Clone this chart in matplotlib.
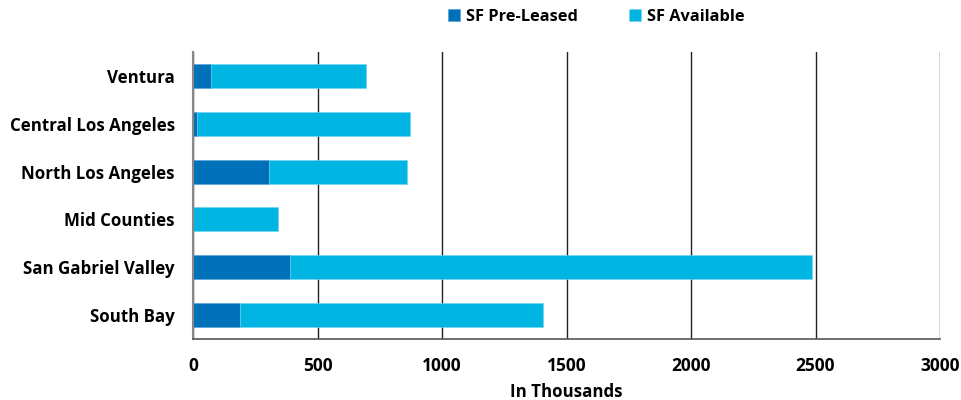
import matplotlib.pyplot as plt

categories = ["Ventura", "Central Los Angeles", "North Los Angeles",
              "Mid Counties", "San Gabriel Valley", "South Bay"]
pre_leased = [72, 16, 307, 0, 390, 189]
total_sf = [693, 870, 861, 343, 2486, 1405]
available = [t - p for t, p in zip(total_sf, pre_leased)]

x_ticks = [0, 500, 1000, 1500, 2000, 2500, 3000]

plt.rcParams["font.family"] = ["Open Sans", "DejaVu Sans"]
plt.rcParams["font.weight"] = "bold"

fig = plt.figure(figsize=(9.61, 4.0), dpi=100)
ax = fig.add_axes([193 / 961, 1 - 339 / 400, 747 / 961, 287 / 400])

ypos = list(range(len(categories)))
ax.barh(ypos, pre_leased, height=0.5, color="#0070B8", label="SF Pre-Leased",
        edgecolor="#4a9fd6", linewidth=0.4)
ax.barh(ypos, available, left=pre_leased, height=0.5, color="#00B5E2",
        label="SF Available", edgecolor="#6fd3f0", linewidth=0.4)

ax.set_ylim(len(categories) - 0.5, -0.5)
ax.set_xlim(0, 3000)
ax.set_yticks(ypos)
ax.set_yticklabels(categories, fontsize=12.2, fontweight="bold")
ax.set_xticks(x_ticks)
ax.set_xticklabels([str(t) for t in x_ticks], fontsize=12.5, fontweight="bold")
ax.tick_params(axis="both", length=0)
ax.tick_params(axis="y", pad=13)
ax.tick_params(axis="x", pad=13)
ax.set_xlabel("In Thousands", fontsize=12.2, fontweight="bold", labelpad=6)

ax.set_axisbelow(True)
ax.grid(axis="x", color="#222222", linewidth=1.0)
for side in ["top", "right"]:
    ax.spines[side].set_visible(False)
ax.spines["left"].set_color("#888888")
ax.spines["left"].set_linewidth(1.5)
ax.spines["bottom"].set_color("#555555")
ax.spines["bottom"].set_linewidth(1.2)

fig.legend(loc="center", bbox_to_anchor=(596 / 961, 1 - 17 / 400), ncol=2,
           frameon=False, handlelength=0.75, handleheight=0.75,
           handletextpad=0.35, columnspacing=3.1,
           prop={"weight": "bold", "size": 11.8})

fig.savefig("out.png", dpi=100)
